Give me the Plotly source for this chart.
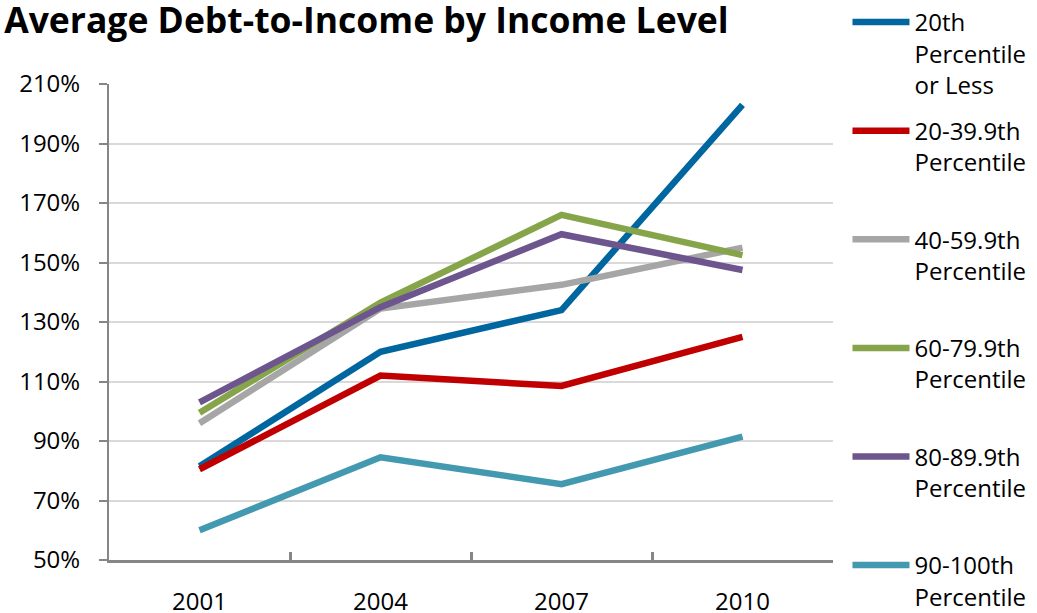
import plotly.graph_objects as go

years = ["2001", "2004", "2007", "2010"]
series_names = [
    "20th<br>Percentile<br>or Less",
    "20-39.9th<br>Percentile<br> ",
    "40-59.9th<br>Percentile<br> ",
    "60-79.9th<br>Percentile<br> ",
    "80-89.9th<br>Percentile<br> ",
    "90-100th<br>Percentile",
]
p20_or_less = [81.5, 120, 134, 203]
p20_39 = [80.5, 112, 108.5, 125]
p40_59 = [96, 134.5, 142.5, 155]
p60_79 = [99.5, 136.5, 166, 152.5]
p80_89 = [103, 135, 159.5, 147.5]
p90_100 = [60, 84.5, 75.5, 91.5]
colors = ["#00669F", "#C00000", "#A6A6A6", "#86A54A", "#6D558E", "#4399B0"]
y_ticks = [50, 70, 90, 110, 130, 150, 170, 190, 210]

values = [p20_or_less, p20_39, p40_59, p60_79, p80_89, p90_100]
font_family = "Open Sans, Noto Sans, sans-serif"

fig = go.Figure()
for name, vals, col in zip(series_names, values, colors):
    fig.add_trace(go.Scatter(
        x=years, y=vals, name=name, mode="lines",
        line=dict(color=col, width=6.5),
        legendgroup=name,
    ))

fig.update_layout(
    width=1037, height=613,
    margin=dict(l=109, r=204, t=84, b=53, autoexpand=False),
    paper_bgcolor="white", plot_bgcolor="white",
    font=dict(family=font_family, size=24, color="#000000"),
    title=dict(text="<b>Average Debt-to-Income by Income Level</b>",
               x=0.004, xanchor="left", xref="container",
               y=0.967, yanchor="middle", yref="container",
               font=dict(size=35.5, family=font_family, color="#000000")),
    legend=dict(x=1.02, xanchor="left", y=1.0, yanchor="top", yref="container",
                valign="top", traceorder="grouped", tracegroupgap=12,
                maxheight=900, itemwidth=57,
                font=dict(size=24, family=font_family),
                bgcolor="rgba(0,0,0,0)", borderwidth=0),
    showlegend=True,
)
fig.update_xaxes(
    type="category", range=[-0.5, 3.5],
    showline=True, linecolor="#868686", linewidth=3,
    ticks="inside", tickson="boundaries", ticklen=8, tickwidth=3, tickcolor="#868686",
    showgrid=False, ticklabelstandoff=18,
)
fig.update_yaxes(
    range=[50, 210], tickvals=y_ticks, ticktext=[f"{v}%" for v in y_ticks],
    showline=True, linecolor="#868686", linewidth=2,
    ticks="outside", ticklen=8, tickwidth=2, tickcolor="#868686",
    showgrid=True, gridcolor="#D9D9D9", gridwidth=1.5,
    zeroline=False, ticklabelstandoff=14,
)

fig.write_html("out.html", config={"displayModeBar": False},
               post_script="document.body.style.margin='0px';")
